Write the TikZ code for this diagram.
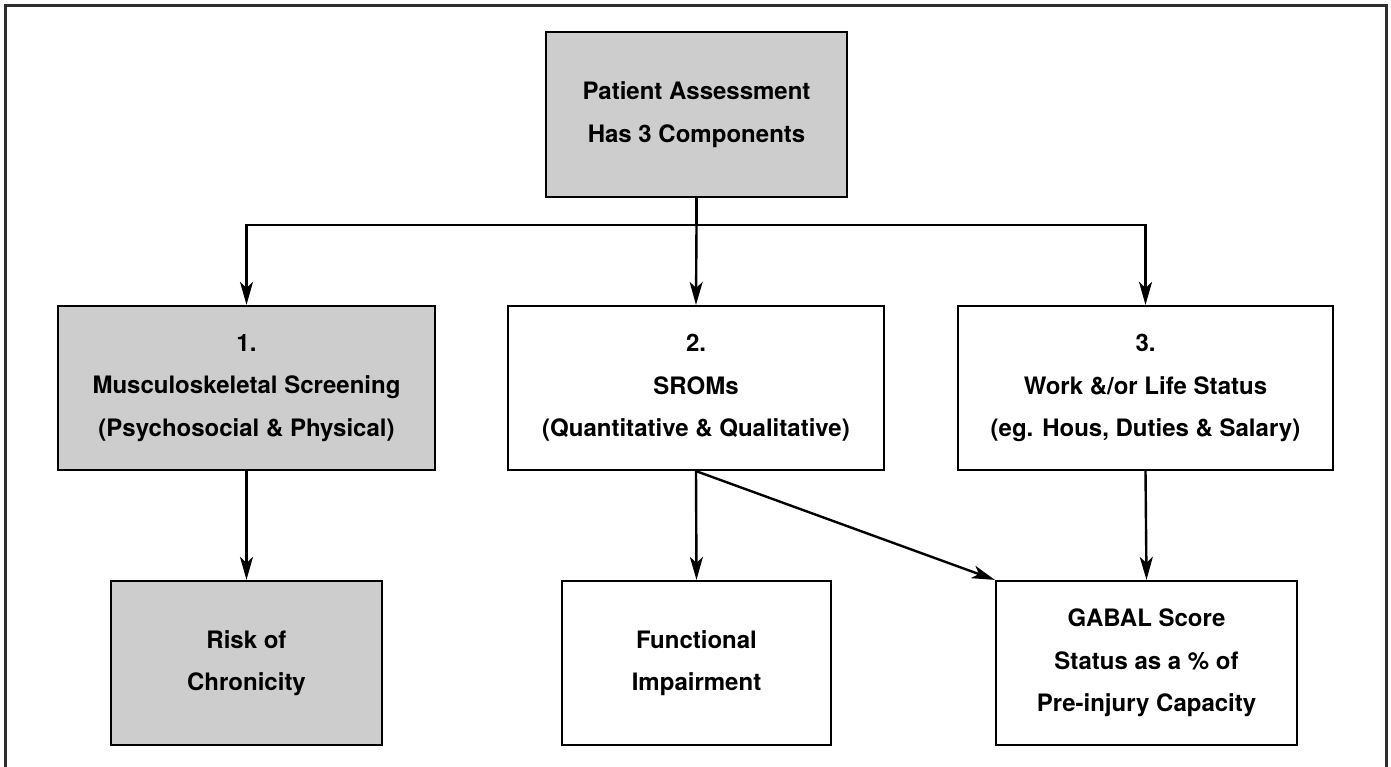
\documentclass[tikz,border=0pt]{standalone}
\usepackage{fontspec}
\setmainfont{TeX Gyre Heros}
\usetikzlibrary{arrows.meta,calc}
\definecolor{boxgray}{RGB}{205,205,205}
\definecolor{framecol}{RGB}{45,45,45}
\tikzset{
  box/.style={draw=black, line width=2.2pt, rectangle, align=center,
    font=\fontsize{24}{42.5}\selectfont\bfseries, inner sep=0pt, anchor=center},
  graybox/.style={box, fill=boxgray},
  whitebox/.style={box, fill=white},
  arr/.style={line width=2.4pt, -{Stealth[length=23pt,width=13pt,inset=6pt]}},
  conn/.style={line width=2.4pt}
}
\begin{document}
\begin{tikzpicture}[x=1pt,y=-1pt]
\useasboundingbox (0,0) rectangle (1391,767);
\clip (0,0) rectangle (1391,767);
\draw[framecol, line width=3pt] (5,6) rectangle (1386,790);
\node[graybox, minimum width=301pt, minimum height=165pt] (top) at (696.5,114.5) {Patient Assessment\\Has 3 Components};
\node[graybox, minimum width=377pt, minimum height=164pt] (b1) at (246.5,388) {1.\\Musculoskeletal Screening\\(Psychosocial \& Physical)};
\node[whitebox, minimum width=376pt, minimum height=164pt] (b2) at (696,388) {2.\\SROMs\\(Quantitative \& Qualitative)};
\node[whitebox, minimum width=375pt, minimum height=164pt] (b3) at (1145.5,388) {3.\\Work \&/or Life Status\\(eg. Hous, Duties \& Salary)};
\node[graybox, minimum width=271pt, minimum height=164pt] (b4) at (246.5,663) {Risk of\\Chronicity};
\node[whitebox, minimum width=269pt, minimum height=164pt] (b5) at (696.5,663) {Functional\\Impairment};
\node[whitebox, minimum width=301pt, minimum height=164pt] (b6) at (1146.5,663) {GABAL Score\\Status as a \% of\\Pre-injury Capacity};
\coordinate (j) at (top.south |- 0,225);
\draw[conn] (top.south) -- (j);
\draw[arr] (j) -| (b1.north);
\draw[arr] (j) -| (b3.north);
\draw[arr] (j) -- (b2.north);
\draw[arr] (b1.south) -- (b4.north);
\draw[arr] (b2.south) -- (b5.north);
\draw[arr] (b2.south) -- (b6.north west);
\draw[arr] (b3.south) -- (b6.north);
\end{tikzpicture}
\end{document}
